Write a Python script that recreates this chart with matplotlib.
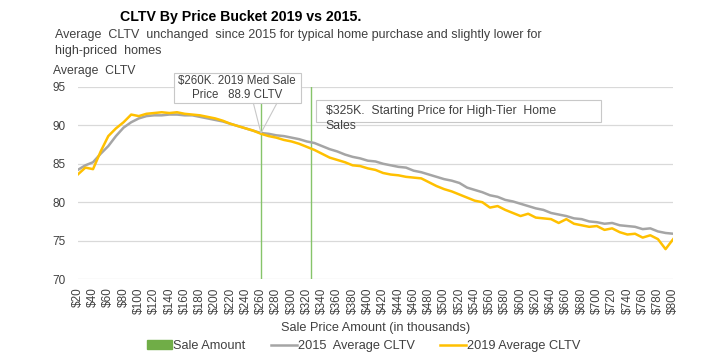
import matplotlib
matplotlib.use("Agg")
import matplotlib.pyplot as plt
from matplotlib.patches import Rectangle, Patch, Polygon
from matplotlib.lines import Line2D

plt.rcParams['font.family'] = ['Liberation Sans', 'DejaVu Sans']

# sale price buckets (thousands)
price = list(range(20, 801, 10))

cltv_2015 = [84.2, 84.8, 85.2, 86.3, 87.3, 88.6, 89.7, 90.4, 90.9, 91.2,
             91.3, 91.3, 91.4, 91.4, 91.3, 91.3, 91.1, 90.9, 90.7, 90.5,
             90.2, 89.9, 89.6, 89.3, 89.0, 88.9, 88.7, 88.6, 88.4, 88.2,
             87.9, 87.7, 87.3, 86.9, 86.6, 86.2, 85.9, 85.7, 85.4, 85.3,
             85.0, 84.8, 84.6, 84.5, 84.1, 83.9, 83.6, 83.3, 83.0, 82.8,
             82.5, 81.9, 81.6, 81.3, 80.9, 80.7, 80.3, 80.1, 79.8, 79.5,
             79.2, 79.0, 78.6, 78.4, 78.2, 77.9, 77.8, 77.5, 77.4, 77.2,
             77.3, 77.0, 76.9, 76.8, 76.5, 76.6, 76.2, 76.0, 75.9]

cltv_2019 = [83.6, 84.5, 84.3, 86.6, 88.6, 89.6, 90.4, 91.4, 91.2, 91.5,
             91.6, 91.7, 91.6, 91.7, 91.5, 91.4, 91.3, 91.1, 90.9, 90.6,
             90.2, 89.9, 89.6, 89.3, 88.9, 88.6, 88.4, 88.1, 87.9, 87.6,
             87.2, 86.8, 86.3, 85.8, 85.5, 85.2, 84.8, 84.7, 84.4, 84.2,
             83.8, 83.6, 83.5, 83.3, 83.2, 83.1, 82.6, 82.1, 81.7, 81.4,
             81.0, 80.6, 80.2, 80.0, 79.3, 79.5, 79.0, 78.6, 78.2, 78.5,
             78.0, 77.9, 77.8, 77.3, 77.8, 77.2, 77.0, 76.8, 76.9, 76.4,
             76.6, 76.1, 75.8, 75.9, 75.4, 75.7, 75.2, 73.9, 75.2]

markers = [260, 325]
tick_vals = list(range(20, 801, 20))
tick_labels = ['$' + str(t) for t in tick_vals]

txt = '#404040'
fig = plt.figure(figsize=(7.2, 3.62), dpi=100)
ax = fig.add_axes([0.108, 0.229, 0.827, 0.531])

for m in markers:
    ax.axvline(m, color='#86C46A', lw=1.0, zorder=2)
ax.plot(price, cltv_2015, color='#A5A5A5', lw=1.8, zorder=3)
ax.plot(price, cltv_2019, color='#FFC000', lw=1.8, zorder=4)

ax.set_xlim(20, 800)
ax.set_ylim(70, 95)
ax.set_yticks([70, 75, 80, 85, 90, 95])
ax.set_xticks(tick_vals)
ax.set_xticklabels(tick_labels, rotation=90, fontsize=8.5, color=txt)
ax.tick_params(axis='y', labelsize=8.5, labelcolor=txt, length=0, pad=8.5)
ax.tick_params(axis='x', length=0, pad=6)
ax.grid(axis='y', color='#D9D9D9', lw=0.9)
ax.set_axisbelow(True)
for s in ax.spines.values():
    s.set_visible(False)

ax.set_xlabel('Sale Price Amount (in thousands)', fontsize=9.2, color=txt, labelpad=6)

# callout for the median sale price
ax.add_patch(Rectangle((146, 92.9), 167, 3.9, fc='white', ec='#C8C8C8', lw=0.8,
                       zorder=5, clip_on=False))
ax.add_patch(Polygon([(250, 92.9), (260, 89.0), (281, 92.9)], closed=False,
                     fc='none', ec='#C8C8C8', lw=0.8, zorder=5))
ax.text(229, 94.85, '$260K. 2019 Med Sale\nPrice   88.9 CLTV', ha='center', va='center',
        fontsize=8.3, color=txt, zorder=6, linespacing=1.2)

# high tier note
ax.add_patch(Rectangle((332, 90.4), 373, 2.9, fc='white', ec='#C8C8C8', lw=0.8, zorder=5))
ax.text(345, 91.9, '$325K.  Starting Price for High-Tier  Home', fontsize=8.8,
        color=txt, va='center', zorder=6)
ax.text(345, 89.9, 'Sales', fontsize=8.8, color=txt, va='center', zorder=6)

fig.text(0.167, 0.953, 'CLTV By Price Bucket 2019 vs 2015.', fontsize=10.2,
         fontweight='bold', va='center')
fig.text(0.076, 0.903, 'Average  CLTV  unchanged  since 2015 for typical home purchase and slightly lower for',
         fontsize=9.0, color=txt, va='center')
fig.text(0.076, 0.860, 'high-priced  homes', fontsize=9.0, color=txt, va='center')
fig.text(0.074, 0.805, 'Average  CLTV', fontsize=8.8, color=txt, va='center')

handles = [Patch(color='#70AD47'),
           Line2D([], [], color='#A5A5A5', lw=1.8),
           Line2D([], [], color='#FFC000', lw=1.8)]
fig.legend(handles, ['Sale Amount', '2015  Average CLTV', '2019 Average CLTV'],
           loc='center', bbox_to_anchor=(0.505, 0.044), ncol=3, frameon=False,
           fontsize=9.2, handlelength=2.0, handletextpad=0.1, columnspacing=2.0,
           labelcolor=txt)

fig.savefig('out.png', dpi=100)
